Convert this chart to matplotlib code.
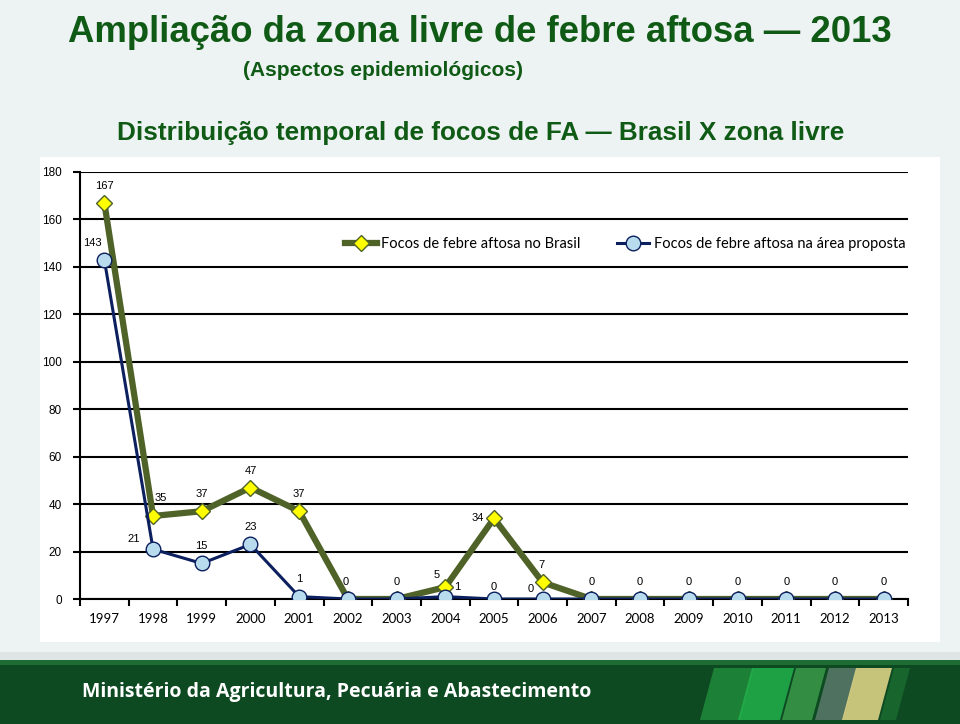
import matplotlib.pyplot as plt
import matplotlib.patches as mpatches
import numpy as np

# data
anos = ['1997', '1998', '1999', '2000', '2001', '2002', '2003', '2004', '2005',
        '2006', '2007', '2008', '2009', '2010', '2011', '2012', '2013']
focos_brasil = [167, 35, 37, 47, 37, 0, 0, 5, 34, 7, 0, 0, 0, 0, 0, 0, 0]
focos_area = [143, 21, 15, 23, 1, 0, 0, 1, 0, 0, 0, 0, 0, 0, 0, 0, 0]

# label offsets in pixels (dx, dy), None = no label
off_brasil = [(0, 17), (8, 18), (0, 17), (0, 17), (0, 17), (-2, 17), (0, 17), (-9, 12), (-16, 0),
              (-1, 17), (0, 17), (0, 17), (0, 17), (0, 17), (0, 17), (0, 17), (0, 17)]
off_area = [(-12, 17), (-19, 10), (0, 17), (0, 17), (0, 18), None, None, (12, 10), (0, 12),
            (-12, 10), None, None, None, None, None, None, None]

verde = '#4f6228'
azul = '#0c1f5e'
titulo_cor = '#0f5a14'

W, H = 960, 724
fig = plt.figure(figsize=(9.6, 7.24), dpi=100)
fig.patch.set_facecolor('#edf2f2')


def px(x, y):
    # pixel coords (from top-left) -> figure fraction
    return (x / W, 1 - y / H)


# white panel behind chart
fig.patches.append(mpatches.Rectangle(px(40, 642), 900/W, 485/H, transform=fig.transFigure,
                                      facecolor='white', edgecolor='none', zorder=0))
# shadow above footer
fig.patches.append(mpatches.Rectangle(px(0, 660), 1, 8/H, transform=fig.transFigure,
                                      facecolor='#dfe4e4', edgecolor='none', zorder=0))
# footer band
fig.patches.append(mpatches.Rectangle(px(0, 724), 1, 64/H, transform=fig.transFigure,
                                      facecolor='#0d4a22', edgecolor='none', zorder=0))
fig.patches.append(mpatches.Rectangle(px(0, 665), 1, 5/H, transform=fig.transFigure,
                                      facecolor='#1e6b33', edgecolor='none', zorder=0))
for x0, w, c in [(700, 40, '#1f8a3a'), (738, 42, '#22b14c'), (782, 30, '#3a9a4a'),
                 (815, 28, '#5a7a6a'), (842, 36, '#e8d98a'), (880, 16, '#1a6a30')]:
    sk = 14
    poly = [px(x0 + sk, 668), px(x0 + w + sk, 668), px(x0 + w, 720), px(x0, 720)]
    fig.patches.append(mpatches.Polygon(poly, closed=True, transform=fig.transFigure,
                                        facecolor=c, edgecolor='none', alpha=0.85, zorder=1))
fig.text(*px(82, 692), 'Ministério da Agricultura, Pecuária e Abastecimento',
         color='white', fontsize=14, fontweight='bold', family='Open Sans',
         va='center', ha='left', zorder=3)

# titles
fig.text(*px(480, 33), 'Ampliação da zona livre de febre aftosa — 2013',
         color=titulo_cor, fontsize=26.3, fontweight='bold', family='Liberation Sans',
         ha='center', va='center')
fig.text(*px(383, 71), '(Aspectos epidemiológicos)', color=titulo_cor,
         fontsize=15, fontweight='bold', family='Liberation Sans', ha='center', va='center')
fig.text(*px(481, 133), 'Distribuição temporal de focos de FA — Brasil X zona livre',
         color=titulo_cor, fontsize=18.8, fontweight='bold', family='Liberation Sans',
         ha='center', va='center')

ax = fig.add_axes([80/W, 1-599/H, 828/W, 427/H])
ax.set_zorder(5)
ax.set_facecolor('none')
x = np.arange(len(anos))

ax.plot(x, focos_brasil, color=verde, lw=4.5, marker='D', markersize=8.5,
        markerfacecolor='#ffff00', markeredgecolor=verde, markeredgewidth=1, zorder=3,
        label='Focos de febre aftosa no Brasil')
ax.plot(x, focos_area, color=azul, lw=2.2, marker='o', markersize=10.5,
        markerfacecolor='#b8dcee', markeredgecolor=azul, markeredgewidth=1, zorder=4,
        label='Focos de febre aftosa na área proposta')

for i, v in enumerate(focos_brasil):
    if off_brasil[i] is not None:
        ax.annotate(str(v), (x[i], v), xytext=off_brasil[i], textcoords='offset pixels',
                    ha='center', va='center', fontsize=8, family='Liberation Sans', zorder=5)
for i, v in enumerate(focos_area):
    if off_area[i] is not None:
        ax.annotate(str(v), (x[i], v), xytext=off_area[i], textcoords='offset pixels',
                    ha='center', va='center', fontsize=8, family='Liberation Sans', zorder=5)

ax.set_xlim(-0.5, len(anos) - 0.5)
ax.set_ylim(0, 180)
ax.set_yticks(range(0, 181, 20))
ax.yaxis.grid(True, color='black', lw=1.5)
ax.set_axisbelow(True)
ax.set_xticks(x)
ax.set_xticklabels(anos, family='Lato', fontsize=9.5)
ax.set_xticks(np.arange(-0.5, len(anos), 1), minor=True)
ax.tick_params(axis='x', which='major', length=0, pad=10)
ax.tick_params(axis='x', which='minor', length=5, width=1.5, direction='out')
ax.tick_params(axis='y', length=5, width=1.5, labelsize=8.5, pad=8)
for lab in ax.get_yticklabels():
    lab.set_family('Liberation Sans')
ax.spines['top'].set_visible(False)
ax.spines['right'].set_visible(False)
ax.spines['left'].set_linewidth(1.5)
ax.spines['bottom'].set_linewidth(1.5)

leg = ax.legend(loc='center', bbox_to_anchor=((625-80)/828, (599-244)/427), ncol=2, frameon=True,
                framealpha=1, facecolor='white', edgecolor='none', fancybox=False,
                prop={'family': 'Lato', 'size': 10.5}, handlelength=2.2, handletextpad=0.3,
                columnspacing=2.5, borderpad=0.2)

fig.savefig('out.png', dpi=100, facecolor=fig.get_facecolor())
